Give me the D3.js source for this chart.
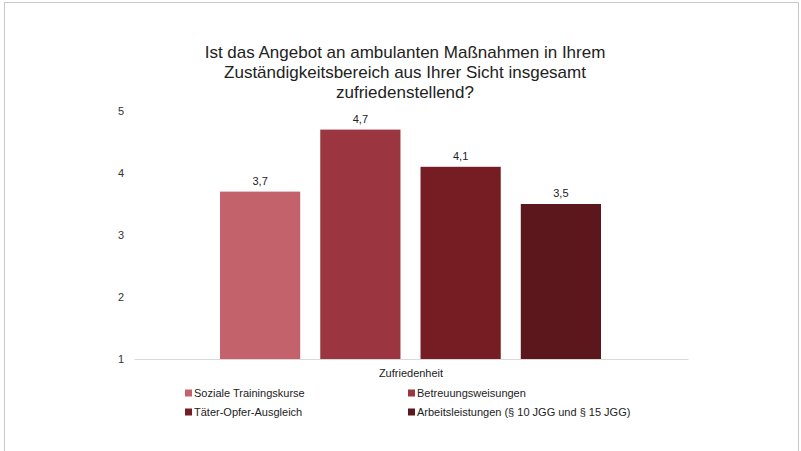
<!DOCTYPE html>
<html>
<head>
<meta charset="utf-8">
<script src="https://cdn.jsdelivr.net/npm/d3@7"></script>
<style>
  body { margin: 0; background: #fff; }
  svg text { font-family: "Liberation Sans", Arial, sans-serif; fill: #222; }
</style>
</head>
<body>
<svg width="801" height="451"></svg>
<script>
var titleLines = ["Ist das Angebot an ambulanten Maßnahmen in Ihrem",
                  "Zuständigkeitsbereich aus Ihrer Sicht insgesamt",
                  "zufriedenstellend?"];
var category = "Zufriedenheit";
var series = ["Soziale Trainingskurse", "Betreuungsweisungen",
              "Täter-Opfer-Ausgleich", "Arbeitsleistungen (§ 10 JGG und § 15 JGG)"];
var values = [3.7, 4.7, 4.1, 3.5];
var yTicks = [1, 2, 3, 4, 5];
var colors = ["#c4626b", "#9b3540", "#761c23", "#5c171d"];

var svg = d3.select("svg");

// outer frame
svg.append("rect")
    .attr("x", 4.5).attr("y", 2.5)
    .attr("width", 794).attr("height", 470)
    .style("fill", "none").style("stroke", "#c8c8c8");

svg.append("g").selectAll("text")
  .data(titleLines)
  .enter().append("text")
    .attr("x", 405)
    .attr("y", function(d, i) { return 58 + i * 20; })
    .attr("text-anchor", "middle")
    .style("font-size", "17px")
    .text(function(d) { return d; });

var x0 = d3.scaleBand().domain([category]).range([134, 688]),
    x1 = d3.scaleBand().domain(series).range([220, 601]).paddingInner(0.2),
    y = d3.scaleLinear().domain([1, 5]).range([359, 111]);

// y axis labels only
var yAxis = svg.append("g")
    .attr("transform", "translate(134,0)")
    .call(d3.axisLeft(y).tickValues(yTicks).tickSize(0).tickPadding(10).tickFormat(d3.format("d")));
yAxis.select(".domain").remove();
yAxis.selectAll("text").style("font-size", "11px").style("fill", "#333")
    .style("font-family", "'Liberation Sans', Arial, sans-serif");

svg.selectAll(".bar")
  .data(values)
  .enter().append("rect")
    .attr("class", "bar")
    .attr("x", function(d, i) { return x1(series[i]); })
    .attr("y", function(d) { return y(d); })
    .attr("width", x1.bandwidth())
    .attr("height", function(d) { return y(1) - y(d); })
    .style("fill", function(d, i) { return colors[i]; });

svg.selectAll(".val")
  .data(values)
  .enter().append("text")
    .attr("class", "val")
    .attr("x", function(d, i) { return x1(series[i]) + x1.bandwidth() / 2; })
    .attr("y", function(d) { return y(d) - 7; })
    .attr("text-anchor", "middle")
    .style("font-size", "11px")
    .text(function(d) { return d3.format(".1f")(d).replace(".", ","); });

// x axis
var xAxis = svg.append("g")
    .attr("transform", "translate(0," + y(1) + ")")
    .call(d3.axisBottom(x0).tickSize(0).tickPadding(10));
xAxis.select(".domain").style("stroke", "#d9d9d9");
xAxis.selectAll("text").style("font-size", "11px").style("fill", "#222")
    .style("font-family", "'Liberation Sans', Arial, sans-serif");

// legend
var legend = svg.append("g").selectAll("g")
  .data(series)
  .enter().append("g")
    .attr("transform", function(d, i) {
      return "translate(" + (i % 2 ? 408 : 185) + "," + (i < 2 ? 393 : 412) + ")";
    });
legend.append("rect")
    .attr("x", 0).attr("y", -3.5)
    .attr("width", 7).attr("height", 7)
    .style("fill", function(d, i) { return colors[i]; });
legend.append("text")
    .attr("x", 9).attr("y", 4)
    .style("font-size", "11px")
    .text(function(d) { return d; });
</script>
</body>
</html>
